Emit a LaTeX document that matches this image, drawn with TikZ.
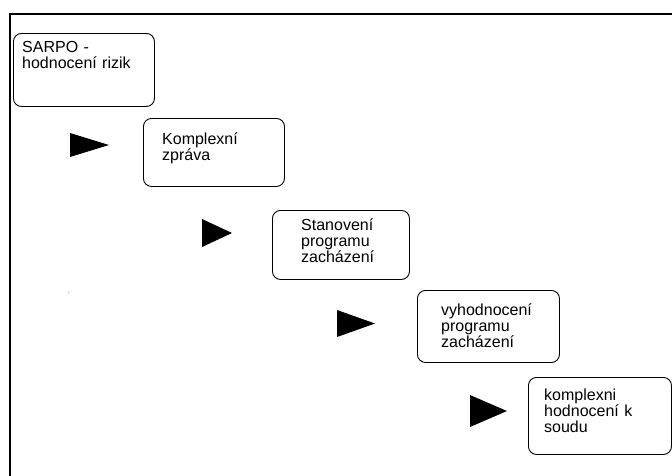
\documentclass[tikz,border=0pt]{standalone}
\usepackage{fontspec}
\setmainfont{Liberation Sans}
\usetikzlibrary{positioning}
\usetikzlibrary{calc}

\begin{document}
\begin{tikzpicture}[x=1pt, y=-1pt,
    B/.style={draw, rounded corners=8pt, line width=0.9pt, inner sep=0pt, anchor=north west},
    T/.style={font=\fontsize{16}{16.4}\selectfont, text width=140pt, align=left, inner sep=0pt, anchor=base west}]
            \useasboundingbox (0,0) rectangle (672,475);
            \draw[line width=2.2pt] (10,476) -- (10,14) -- (673,14);
            \node[B, minimum width=141pt, minimum height=73pt] (box_1) at (13,33) {};
            \node[B, minimum width=141pt, minimum height=68pt] (box_2) at (143,118) {};
            \node[B, minimum width=137pt, minimum height=69pt] (box_3) at (272,210) {};
            \node[B, minimum width=142pt, minimum height=72pt] (box_4) at (417,290) {};
            \node[B, minimum width=143pt, minimum height=77pt] (box_5) at (528,377) {};
            \node[T] (txt_1) at ($(box_1.north west)+(9,19)$) {SARPO -\\hodnocení rizik};
            \node[T] (txt_2) at ($(box_2.north west)+(19,26)$) {Komplexní\\zpráva};
            \node[T] (txt_3) at ($(box_3.north west)+(29,20)$) {Stanovení\\programu\\zacházení};
            \node[T] (txt_4) at ($(box_4.north west)+(24,25)$) {vyhodnocení\\programu\\zacházení};
            \node[T] (txt_5) at ($(box_5.north west)+(16,23)$) {komplexni\\hodnocení k\\soudu};
            \foreach \xa/\ya/\xb/\yb in {70/133/109/157, 202/219/232/247, 337/310/375/337, 470/395/507/427}
                \fill (\xa,\ya) -- (\xb,{(\ya+\yb)/2}) -- (\xa,\yb) -- cycle;
            \fill[gray!60] (67.5,291.5) rectangle ++(1.2,1.2);
        \end{tikzpicture}
\end{document}
